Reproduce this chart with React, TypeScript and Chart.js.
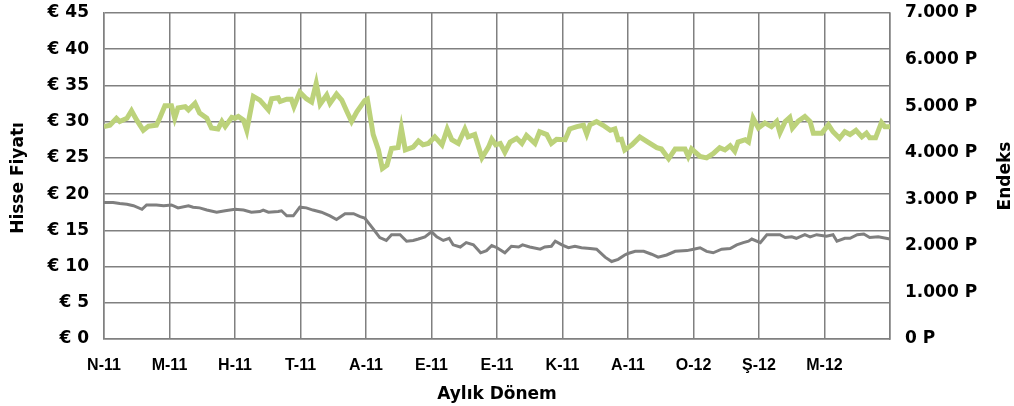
import React, { useEffect, useRef } from 'react';
import { Chart, registerables } from 'chart.js';

Chart.register(...registerables);

const monthLabels = ['N-11', 'M-11', 'H-11', 'T-11', 'A-11', 'E-11', 'E-11', 'K-11', 'A-11', 'O-12', 'Ş-12', 'M-12'];

// Endeks (right axis, P) — time in months from start
const indexT = [
  0.00, 0.09, 0.19, 0.24, 0.35, 0.42, 0.50, 0.60, 0.68, 0.80, 0.85, 0.93, 1.03, 1.08, 1.13, 1.24, 1.29, 1.39, 1.46, 1.57,
  1.64, 1.74, 1.80, 1.85, 1.95, 2.00, 2.05, 2.13, 2.18, 2.28, 2.38, 2.51, 2.56, 2.66, 2.69, 2.79, 2.86, 2.90, 2.99, 3.09,
  3.17, 3.24, 3.30, 3.40, 3.45, 3.55, 3.63, 3.71, 3.78, 3.86, 3.98, 4.02, 4.11, 4.19, 4.25, 4.32, 4.39, 4.49, 4.54, 4.60,
  4.72, 4.80, 4.87, 4.95, 5.05, 5.16, 5.24, 5.31, 5.41, 5.51, 5.56, 5.66, 5.77, 5.87, 5.92, 5.98, 6.05, 6.12, 6.20, 6.30,
  6.38, 6.45, 6.58, 6.65, 6.76, 6.83, 6.91, 7.04, 7.11, 7.22, 7.32, 7.37, 7.42, 7.52, 7.62, 7.73, 7.80, 7.85, 7.90, 7.95,
  8.06, 8.18, 8.28, 8.44, 8.51, 8.62, 8.72, 8.87, 8.92, 8.97, 9.10, 9.20, 9.30, 9.40, 9.48, 9.56, 9.63, 9.68, 9.79, 9.84,
  9.91, 9.99, 10.09, 10.19, 10.27, 10.32, 10.40, 10.47, 10.51, 10.60, 10.70, 10.78, 10.83, 10.96, 11.06, 11.13, 11.23,
  11.31, 11.39, 11.48, 11.57, 11.64, 11.69, 11.78, 11.87, 11.92, 12.00,
];
const indexV = [
  4560, 4590, 4740, 4670, 4740, 4900, 4700, 4480, 4570, 4590, 4740, 5010, 5010, 4740, 4960, 4990, 4920, 5060, 4850, 4740,
  4530, 4510, 4670, 4560, 4760, 4740, 4780, 4700, 4480, 5210, 5130, 4920, 5160, 5180, 5100, 5150, 5150, 4990, 5300, 5160,
  5090, 5490, 5040, 5240, 5060, 5260, 5130, 4880, 4670, 4880, 5120, 5150, 4390, 4060, 3660, 3730, 4090, 4110, 4530, 4060,
  4120, 4250, 4170, 4200, 4340, 4170, 4510, 4280, 4200, 4510, 4340, 4390, 3890, 4120, 4290, 4170, 4200, 4010, 4230, 4310,
  4200, 4370, 4200, 4450, 4390, 4200, 4290, 4280, 4510, 4560, 4590, 4400, 4600, 4670, 4590, 4480, 4510, 4280, 4290, 4060,
  4170, 4340, 4250, 4110, 4080, 3870, 4080, 4080, 3920, 4080, 3920, 3890, 3980, 4110, 4060, 4150, 4030, 4230, 4280, 4230,
  4740, 4530, 4640, 4560, 4670, 4430, 4670, 4760, 4530, 4680, 4780, 4670, 4420, 4420, 4600, 4450, 4310,
  4450, 4390, 4480, 4340, 4420, 4320, 4320, 4650, 4560, 4560,
];

// Hisse Fiyatı (left axis, €)
const priceT = [
  0.00, 0.14, 0.24, 0.35, 0.45, 0.58, 0.65, 0.80, 0.91, 1.03, 1.13, 1.29, 1.36, 1.46, 1.57, 1.72, 1.85, 2.00, 2.13, 2.25,
  2.38, 2.43, 2.51, 2.66, 2.71, 2.79, 2.89, 2.99, 3.09, 3.19, 3.32, 3.45, 3.55, 3.68, 3.81, 3.91, 3.98, 4.11, 4.21, 4.31,
  4.39, 4.52, 4.62, 4.72, 4.80, 4.90, 5.00, 5.08, 5.18, 5.27, 5.33, 5.44, 5.53, 5.64, 5.75, 5.84, 5.92, 6.00, 6.12, 6.22,
  6.33, 6.39, 6.50, 6.66, 6.73, 6.83, 6.89, 6.99, 7.09, 7.19, 7.29, 7.42, 7.52, 7.65, 7.75, 7.85, 7.95, 8.00, 8.11, 8.24,
  8.36, 8.46, 8.59, 8.72, 8.90, 9.00, 9.10, 9.20, 9.30, 9.43, 9.56, 9.66, 9.76, 9.84, 9.89, 10.02, 10.12, 10.32, 10.40,
  10.50, 10.57, 10.70, 10.78, 10.88, 11.03, 11.13, 11.19, 11.31, 11.39, 11.50, 11.60, 11.69, 11.82, 12.00,
];
const priceV = [
  18.85, 18.85, 18.7, 18.6, 18.4, 17.9, 18.5, 18.5, 18.4, 18.5, 18.1, 18.4, 18.2, 18.1, 17.8, 17.5, 17.7, 17.9, 17.8, 17.5,
  17.6, 17.8, 17.5, 17.6, 17.7, 17.0, 17.0, 18.2, 18.1, 17.8, 17.5, 17.0, 16.5, 17.3, 17.3, 16.9, 16.7, 15.2, 14.0, 13.6,
  14.4, 14.4, 13.5, 13.6, 13.8, 14.1, 14.8, 14.1, 13.6, 13.9, 13.0, 12.7, 13.3, 13.0, 11.9, 12.2, 12.9, 12.6, 11.9, 12.8,
  12.7, 13.0, 12.7, 12.4, 12.7, 12.8, 13.5, 13.0, 12.6, 12.8, 12.6, 12.5, 12.4, 11.3, 10.7, 11.0, 11.6, 11.8, 12.1, 12.1,
  11.7, 11.3, 11.6, 12.1, 12.2, 12.4, 12.6, 12.1, 11.9, 12.4, 12.5, 13.0, 13.3, 13.5, 13.8, 13.3, 14.4, 14.4, 14.0,
  14.1, 13.9, 14.4, 14.1, 14.4, 14.2, 14.4, 13.5, 13.9, 13.9, 14.4, 14.5, 14.0, 14.1, 13.8,
];

const TEXT_FONT = '"DejaVu Sans", Verdana, sans-serif';

const titlesPlugin = {
  id: 'axisTitlesCustom',
  afterDraw(chart: any) {
    const { ctx, chartArea } = chart;
    const cx = (chartArea.left + chartArea.right) / 2;
    const cy = (chartArea.top + chartArea.bottom) / 2;
    ctx.save();
    ctx.fillStyle = '#000';
    ctx.font = `bold 17px ${TEXT_FONT}`;
    ctx.textAlign = 'center';
    ctx.textBaseline = 'middle';
    ctx.fillText('Aylık Dönem', cx, chartArea.bottom + 56);
    ctx.save();
    ctx.translate(18.5, cy + 2);
    ctx.rotate(-Math.PI / 2);
    ctx.fillText('Hisse Fiyatı', 0, 0);
    ctx.restore();
    ctx.save();
    ctx.translate(chart.width - 8, cy);
    ctx.rotate(-Math.PI / 2);
    ctx.fillText('Endeks', 0, 0);
    ctx.restore();
    ctx.restore();
  },
};

const fixV = (w: number) => (s: any) => {
  s.width = w;
  s.paddingTop = 0;
  s.paddingBottom = 0;
};

export default function App() {
  const canvasRef = useRef<HTMLCanvasElement | null>(null);

  useEffect(() => {
    if (!canvasRef.current) return;
    const gridColor = '#808080';
    const chart = new Chart(canvasRef.current, {
      type: 'line',
      data: {
        datasets: [
          {
            label: 'Hisse Fiyatı',
            data: priceT.map((t, i) => ({ x: t, y: priceV[i] })),
            borderColor: '#7f7f7f',
            borderWidth: 3,
            pointRadius: 0,
            tension: 0,
            yAxisID: 'yL',
          },
          {
            label: 'Endeks',
            data: indexT.map((t, i) => ({ x: t, y: indexV[i] })),
            borderColor: '#bcd27a',
            borderWidth: 5,
            pointRadius: 0,
            tension: 0,
            yAxisID: 'yR',
          },
        ],
      },
      options: {
        responsive: false,
        animation: false,
        parsing: false,
        layout: { padding: { top: 13, left: 0, right: 0, bottom: 0 } },
        plugins: {
          legend: { display: false },
          tooltip: { enabled: false },
        },
        scales: {
          x: {
            type: 'linear',
            min: 0,
            max: 12,
            afterFit: (s: any) => {
              s.height = 67;
              s.paddingLeft = 0;
              s.paddingRight = 0;
            },
            afterBuildTicks: (s: any) => {
              s.ticks = Array.from({ length: 13 }, (_, i) => ({ value: i }));
            },
            ticks: {
              autoSkip: false,
              maxRotation: 0,
              padding: 17,
              color: '#000',
              font: { family: '"Liberation Sans", Arial, sans-serif', weight: 'bold', size: 16 },
              callback: (v: any) => monthLabels[v] ?? '',
            },
            grid: { color: gridColor, lineWidth: 1.5, drawTicks: false },
            border: { color: gridColor, width: 1.5 },
          },
          yL: {
            type: 'linear',
            position: 'left',
            min: 0,
            max: 45,
            afterFit: fixV(104),
            ticks: {
              stepSize: 5,
              padding: 15,
              color: '#000',
              font: { family: TEXT_FONT, weight: 'bold', size: 17 },
              callback: (v: any) => '€ ' + v,
            },
            grid: { color: gridColor, lineWidth: 1.5, drawTicks: false },
            border: { color: gridColor, width: 1.5 },
          },
          yR: {
            type: 'linear',
            position: 'right',
            min: 0,
            max: 7000,
            afterFit: fixV(124),
            ticks: {
              stepSize: 1000,
              padding: 15,
              color: '#000',
              font: { family: TEXT_FONT, weight: 'bold', size: 17 },
              callback: (v: any) => (v >= 1000 ? `${v / 1000}.000 P` : `${v} P`),
            },
            grid: { drawOnChartArea: false, drawTicks: false },
            border: { color: gridColor, width: 1.5 },
          },
        },
      },
      plugins: [titlesPlugin],
    });
    return () => chart.destroy();
  }, []);

  return (
    <div style={{ position: 'absolute', left: 0, top: 0, width: 1014, height: 406, background: '#fff' }}>
      <canvas ref={canvasRef} width={1014} height={406} style={{ display: 'block' }} />
    </div>
  );
}
